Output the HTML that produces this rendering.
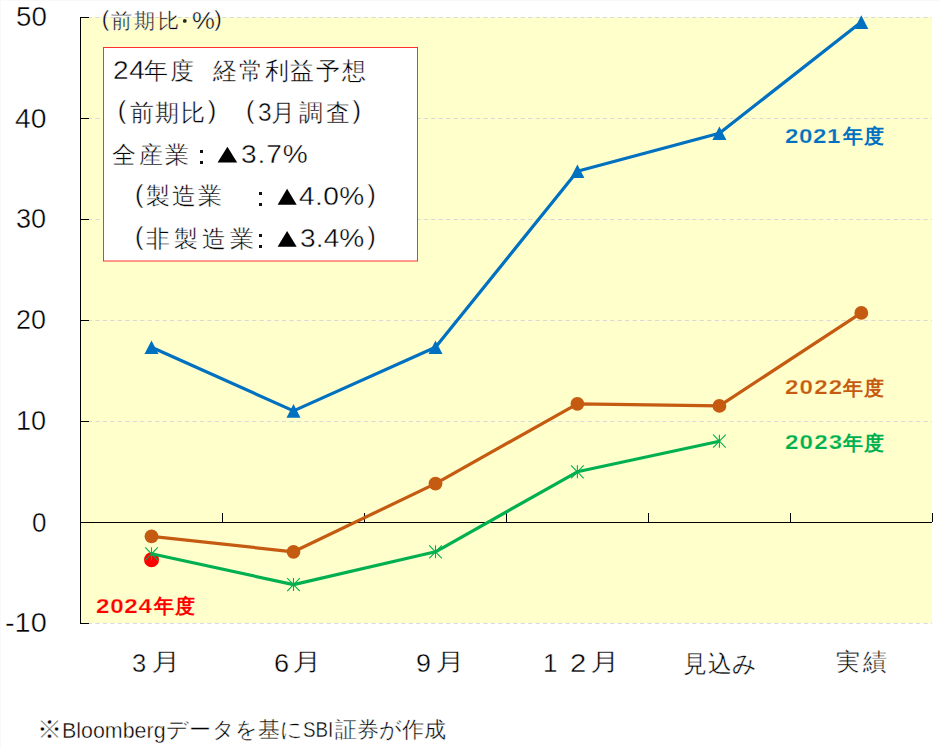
<!DOCTYPE html>
<html lang="ja"><head><meta charset="utf-8">
<style>
html,body{margin:0;padding:0;background:#fff;}
body{width:939px;height:748px;position:relative;overflow:hidden;font-family:"Liberation Sans",sans-serif;color:#000;}
svg{position:absolute;left:0;top:0;}
.t{position:absolute;white-space:nowrap;line-height:1;transform-origin:0 0;}
.th{-webkit-text-stroke:0.4px #fff;}
.ty{-webkit-text-stroke:0.25px #FFFFCC;}
</style></head><body>
<svg width="939" height="748" viewBox="0 0 939 748">
<rect x="0" y="0" width="1" height="748" fill="#F9F9F9"/><rect x="0" y="0" width="939" height="1" fill="#F9F9F9"/>
<rect x="80.5" y="17" width="851.5" height="606" fill="#FFFFCC"/>
<line x1="80.5" y1="17.5" x2="932.0" y2="17.5" stroke="#D9D9D9" stroke-width="1" stroke-dasharray="4.26 3.2"/>
<line x1="80.5" y1="118.5" x2="932.0" y2="118.5" stroke="#D9D9D9" stroke-width="1" stroke-dasharray="4.26 3.2"/>
<line x1="80.5" y1="219.5" x2="932.0" y2="219.5" stroke="#D9D9D9" stroke-width="1" stroke-dasharray="4.26 3.2"/>
<line x1="80.5" y1="320.5" x2="932.0" y2="320.5" stroke="#D9D9D9" stroke-width="1" stroke-dasharray="4.26 3.2"/>
<line x1="80.5" y1="421.5" x2="932.0" y2="421.5" stroke="#D9D9D9" stroke-width="1" stroke-dasharray="4.26 3.2"/>
<line x1="80.5" y1="623.5" x2="932.0" y2="623.5" stroke="#D9D9D9" stroke-width="1" stroke-dasharray="4.26 3.2"/>
<line x1="80.5" y1="522.5" x2="932.0" y2="522.5" stroke="#000" stroke-width="1"/>
<line x1="80.5" y1="17" x2="80.5" y2="623" stroke="#000" stroke-width="1"/>
<line x1="80" y1="17.5" x2="89" y2="17.5" stroke="#000" stroke-width="1"/>
<line x1="80" y1="118.5" x2="89" y2="118.5" stroke="#000" stroke-width="1"/>
<line x1="80" y1="219.5" x2="89" y2="219.5" stroke="#000" stroke-width="1"/>
<line x1="80" y1="320.5" x2="89" y2="320.5" stroke="#000" stroke-width="1"/>
<line x1="80" y1="421.5" x2="89" y2="421.5" stroke="#000" stroke-width="1"/>
<line x1="80" y1="522.5" x2="89" y2="522.5" stroke="#000" stroke-width="1"/>
<line x1="80" y1="623.5" x2="89" y2="623.5" stroke="#000" stroke-width="1"/>
<line x1="80.5" y1="513" x2="80.5" y2="522" stroke="#000" stroke-width="1"/>
<line x1="222.5" y1="513" x2="222.5" y2="522" stroke="#000" stroke-width="1"/>
<line x1="364.5" y1="513" x2="364.5" y2="522" stroke="#000" stroke-width="1"/>
<line x1="506.5" y1="513" x2="506.5" y2="522" stroke="#000" stroke-width="1"/>
<line x1="648.5" y1="513" x2="648.5" y2="522" stroke="#000" stroke-width="1"/>
<line x1="790.5" y1="513" x2="790.5" y2="522" stroke="#000" stroke-width="1"/>
<line x1="932.5" y1="513" x2="932.5" y2="522" stroke="#000" stroke-width="1"/>
<polyline points="151.5,347.3 293.5,410.9 435.5,347.3 577.4,171.3 719.4,133.2 861.3,22.1" fill="none" stroke="#0070C0" stroke-width="3.2" stroke-linejoin="round"/>
<polyline points="151.5,536.4 293.5,551.8 435.5,483.6 577.4,403.8 719.4,405.9 861.3,312.9" fill="none" stroke="#C55A11" stroke-width="3.2" stroke-linejoin="round"/>
<circle cx="151.5" cy="559.7" r="7.5" fill="#FF0000"/>
<polyline points="151.5,553.8 293.5,584.6 435.5,551.8 577.4,471.8 719.4,441.2" fill="none" stroke="#00B050" stroke-width="3.2" stroke-linejoin="round"/>
<polygon points="151.5,340.5 158.5,354.1 144.5,354.1" fill="#0070C0"/>
<polygon points="293.5,404.1 300.5,417.7 286.5,417.7" fill="#0070C0"/>
<polygon points="435.5,340.5 442.5,354.1 428.5,354.1" fill="#0070C0"/>
<polygon points="577.4,164.5 584.4,178.1 570.4,178.1" fill="#0070C0"/>
<polygon points="719.4,126.4 726.4,140.0 712.4,140.0" fill="#0070C0"/>
<polygon points="861.3,15.3 868.3,28.9 854.3,28.9" fill="#0070C0"/>
<circle cx="151.5" cy="536.4" r="6.9" fill="#C55A11"/>
<circle cx="293.5" cy="551.8" r="6.9" fill="#C55A11"/>
<circle cx="435.5" cy="483.6" r="6.9" fill="#C55A11"/>
<circle cx="577.4" cy="403.8" r="6.9" fill="#C55A11"/>
<circle cx="719.4" cy="405.9" r="6.9" fill="#C55A11"/>
<circle cx="861.3" cy="312.9" r="6.9" fill="#C55A11"/>
<path d="M151.5,547.3V560.3M145.2,547.3L157.8,560.3M157.8,547.3L145.2,560.3" stroke="#00B050" stroke-width="1.1" fill="none"/>
<path d="M293.5,578.1V591.1M287.2,578.1L299.8,591.1M299.8,578.1L287.2,591.1" stroke="#00B050" stroke-width="1.1" fill="none"/>
<path d="M435.5,545.3V558.3M429.2,545.3L441.8,558.3M441.8,545.3L429.2,558.3" stroke="#00B050" stroke-width="1.1" fill="none"/>
<path d="M577.4,465.3V478.3M571.1,465.3L583.7,478.3M583.7,465.3L571.1,478.3" stroke="#00B050" stroke-width="1.1" fill="none"/>
<path d="M719.4,434.7V447.7M713.1,434.7L725.7,447.7M725.7,434.7L713.1,447.7" stroke="#00B050" stroke-width="1.1" fill="none"/>
<rect x="103.5" y="47.5" width="314" height="213.5" fill="#fff" stroke="#FF3030" stroke-width="1"/>
<circle cx="184.8" cy="20.9" r="1.9" fill="#262626"/>
<rect x="200" y="150" width="3" height="3" fill="#111"/>
<rect x="200" y="161" width="3" height="3" fill="#111"/>
<rect x="259" y="192" width="3" height="3" fill="#111"/>
<rect x="259" y="203" width="3" height="3" fill="#111"/>
<rect x="259" y="234" width="3" height="3" fill="#111"/>
<rect x="259" y="245" width="3" height="3" fill="#111"/>
<polygon points="227.4,146.8 237.2,162.5 217.6,162.5" fill="#000"/>
<polygon points="287.1,188.8 296.7,204.8 277.6,204.8" fill="#000"/>
<polygon points="287.1,231.0 296.7,246.8 277.6,246.8" fill="#000"/>
</svg>
<div class="t th" style="left:15.5px;top:4.0px;font-size:27px;transform:scaleX(1.025);">50</div>
<div class="t th" style="left:14.9px;top:105.7px;font-size:27px;transform:scaleX(1.0464);">40</div>
<div class="t th" style="left:15.9px;top:205.9px;font-size:27px;transform:scaleX(1.0036);">30</div>
<div class="t th" style="left:15.9px;top:306.9px;font-size:27px;transform:scaleX(0.9964);">20</div>
<div class="t th" style="left:15.9px;top:408.0px;font-size:27px;transform:scaleX(1.0037);">10</div>
<div class="t th" style="left:31.7px;top:509.7px;font-size:27px;transform:scaleX(0.9615);">0</div>
<div class="t th" style="left:4.6px;top:610.0px;font-size:27px;transform:scaleX(1.0703);">-10</div>
<div class="t th" style="left:101.8px;top:7.6px;font-size:22.5px;">(</div>
<div class="t th" style="left:110.6px;top:9.5px;font-size:21px;letter-spacing:2.7px;">前期比</div>
<div class="t th" style="left:192.2px;top:9.9px;font-size:23.5px;transform:scaleX(1.0947);">%</div>
<div class="t th" style="left:214.2px;top:7.5px;font-size:22.5px;">)</div>
<div class="t th" style="left:112.6px;top:56.8px;font-size:26.5px;letter-spacing:0.49px;transform:scaleX(1.06);">24</div>
<div class="t th" style="left:144.3px;top:59.2px;font-size:24px;letter-spacing:1.4px;">年度</div>
<div class="t th" style="left:212.8px;top:59.2px;font-size:24px;letter-spacing:1.88px;">経常利益予想</div>
<div class="t th" style="left:117.8px;top:98.2px;font-size:25.5px;">(</div>
<div class="t th" style="left:129.6px;top:101.0px;font-size:24px;letter-spacing:1.8px;">前期比</div>
<div class="t th" style="left:207.8px;top:98.2px;font-size:25.5px;">)</div>
<div class="t th" style="left:246.1px;top:98.2px;font-size:25.5px;">(</div>
<div class="t th" style="left:257.8px;top:99.3px;font-size:26.5px;transform:scaleX(0.9231);">3</div>
<div class="t th" style="left:271.4px;top:101.0px;font-size:24px;letter-spacing:3.45px;">月調査</div>
<div class="t th" style="left:352.4px;top:98.2px;font-size:25.5px;">)</div>
<div class="t th" style="left:112.0px;top:142.7px;font-size:24px;letter-spacing:2.65px;">全産業</div>
<div class="t th" style="left:240.7px;top:141.0px;font-size:26.5px;letter-spacing:0.86px;transform:scaleX(1.06);">3.7%</div>
<div class="t th" style="left:135.0px;top:182.1px;font-size:25.5px;">(</div>
<div class="t th" style="left:145.7px;top:184.4px;font-size:24px;letter-spacing:2.3px;">製造業</div>
<div class="t th" style="left:298.9px;top:183.0px;font-size:26.5px;letter-spacing:0.35px;transform:scaleX(1.06);">4.0%</div>
<div class="t th" style="left:367.3px;top:182.1px;font-size:25.5px;">)</div>
<div class="t th" style="left:135.0px;top:223.9px;font-size:25.5px;">(</div>
<div class="t th" style="left:145.9px;top:226.8px;font-size:24px;letter-spacing:3.9px;">非製造業</div>
<div class="t th" style="left:299.7px;top:225.2px;font-size:26.5px;letter-spacing:0.1px;transform:scaleX(1.06);">3.4%</div>
<div class="t th" style="left:367.3px;top:224.3px;font-size:25.5px;">)</div>
<div class="t ty" style="left:784.6px;top:126.1px;font-size:20.5px;font-weight:bold;color:#0070C0;letter-spacing:0.47px;transform:scaleX(1.18);">2021</div>
<div class="t" style="left:843.3px;top:126.4px;font-size:20px;font-weight:bold;color:#0070C0;letter-spacing:1.0px;">年度</div>
<div class="t ty" style="left:784.6px;top:377.3px;font-size:20.5px;font-weight:bold;color:#C55A11;letter-spacing:0.95px;transform:scaleX(1.18);">2022</div>
<div class="t" style="left:843.3px;top:377.6px;font-size:20px;font-weight:bold;color:#C55A11;letter-spacing:1.0px;">年度</div>
<div class="t ty" style="left:784.6px;top:432.0px;font-size:20.5px;font-weight:bold;color:#00B050;letter-spacing:0.95px;transform:scaleX(1.18);">2023</div>
<div class="t" style="left:843.3px;top:432.7px;font-size:20px;font-weight:bold;color:#00B050;letter-spacing:1.0px;">年度</div>
<div class="t ty" style="left:95.8px;top:595.8px;font-size:20.5px;font-weight:bold;color:#FF0000;letter-spacing:0.62px;transform:scaleX(1.18);">2024</div>
<div class="t" style="left:154.2px;top:596.4px;font-size:20px;font-weight:bold;color:#FF0000;letter-spacing:0.8px;">年度</div>
<div class="t th" style="left:132.0px;top:650.3px;font-size:26px;transform:scaleX(0.9833);">3</div>
<div class="t th" style="left:150.8px;top:649.9px;font-size:24px;transform:scaleX(1.2412);">月</div>
<div class="t th" style="left:274.0px;top:650.0px;font-size:26px;transform:scaleX(1.0417);">6</div>
<div class="t th" style="left:291.9px;top:649.7px;font-size:24px;transform:scaleX(1.2412);">月</div>
<div class="t th" style="left:415.6px;top:650.0px;font-size:26px;transform:scaleX(1.0333);">9</div>
<div class="t th" style="left:434.5px;top:649.7px;font-size:24px;transform:scaleX(1.2529);">月</div>
<div class="t th" style="left:543.0px;top:650.0px;font-size:26px;">1</div>
<div class="t th" style="left:569.7px;top:650.0px;font-size:26px;transform:scaleX(1.125);">2</div>
<div class="t th" style="left:589.8px;top:649.7px;font-size:24px;transform:scaleX(1.2412);">月</div>
<div class="t th" style="left:682.9px;top:652.3px;font-size:24px;letter-spacing:0.75px;">見込み</div>
<div class="t th" style="left:836.0px;top:650.2px;font-size:24px;letter-spacing:3.1px;">実績</div>
<div class="t th" style="left:37.3px;top:717.0px;font-size:25px;">※</div>
<div class="t th" style="left:62.1px;top:720.6px;font-size:21.5px;transform:scaleX(0.996);">Bloomberg</div>
<div class="t th" style="left:166.0px;top:719.5px;font-size:21.5px;letter-spacing:0.28px;">データを基に</div>
<div class="t th" style="left:302.7px;top:719.6px;font-size:21.5px;transform:scaleX(0.875);">SBI</div>
<div class="t th" style="left:335.0px;top:719.5px;font-size:21.5px;letter-spacing:0.08px;">証券が作成</div>
</body></html>
